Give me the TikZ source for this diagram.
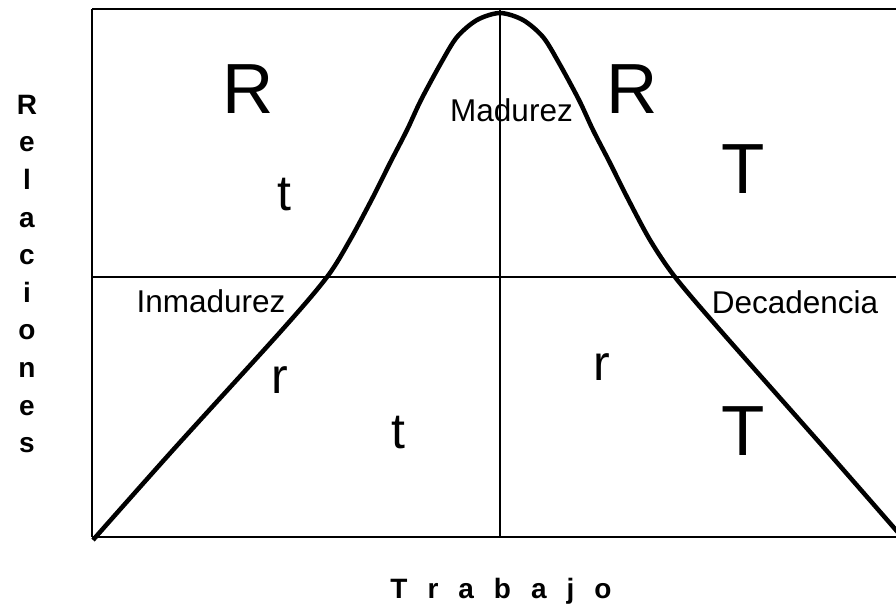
\documentclass[tikz,border=0pt]{standalone}
\usepackage{fontspec}
\setmainfont{Liberation Sans}
\begin{document}
\begin{tikzpicture}[x=1pt,y=-1pt,
  big/.style={font=\fontsize{71}{71}\selectfont, anchor=base, inner sep=0pt},
  small/.style={font=\fontsize{50}{50}\selectfont, anchor=base, inner sep=0pt},
  lab/.style={font=\fontsize{31.5}{31.5}\selectfont, anchor=base, inner sep=0pt},
  axis/.style={font=\fontsize{28}{37.6}\selectfont\bfseries, inner sep=0pt},
  thinline/.style={line width=1.3pt},
  curveline/.style={line width=4.5pt, line join=round}]
\useasboundingbox (0,0) rectangle (896,606);
% frame
\coordinate (tl) at (92,9);
\coordinate (tr) at (896,9);
\coordinate (bl) at (92,537);
\coordinate (br) at (896,537);
\coordinate (ml) at (92,277);
\coordinate (mr) at (896,277);
\coordinate (mt) at (500,9);
\coordinate (mb) at (500,537);
\draw[line width=2.2pt] (tl) -- (tr);
\draw[line width=1.2pt] (tl) -- (bl);
\draw[thinline] (bl) -- (br);
\draw[thinline] (ml) -- (mr);
\draw[thinline] (mt) -- (mb);
% curve
\draw[curveline] plot[smooth, tension=0.5] coordinates {
 (93,540) (173,450) (282,330) (327,277) (350,240) (373,197) (390,163)
 (407,130) (421,100) (441,63) (457,37) (477,20) (500,13)
 (523,20) (543,37) (559,63) (579,100) (593,130) (610,163) (627,197)
 (650,240) (675,277) (720,330) (826,450) (902,537)};
% letters
\node[big] (R1) at (248,113) {R};
\node[big] (R2) at (632,113) {R};
\node[big] (T1) at (743,193) {T};
\node[big] (T2) at (743,455) {T};
\node[small] (t1) at (284,210) {t};
\node[small] (r1) at (280,393) {r};
\node[small] (r2) at (602,380) {r};
\node[small] (t2) at (398,448) {t};
% labels
\node[lab] (mad) at (511.5,121) {Madurez};
\node[lab] (inm) at (211,312) {Inmadurez};
\node[lab] (dec) at (795,313) {Decadencia};
% axes
\node[axis, align=center] (rel) at (27,274) {R\\e\\l\\a\\c\\i\\o\\n\\e\\s};
\node[axis, anchor=base] (trab) at (501,598) {T\kern20pt r\kern20pt a\kern20pt b\kern20pt a\kern20pt j\kern20pt o};
\end{tikzpicture}
\end{document}
